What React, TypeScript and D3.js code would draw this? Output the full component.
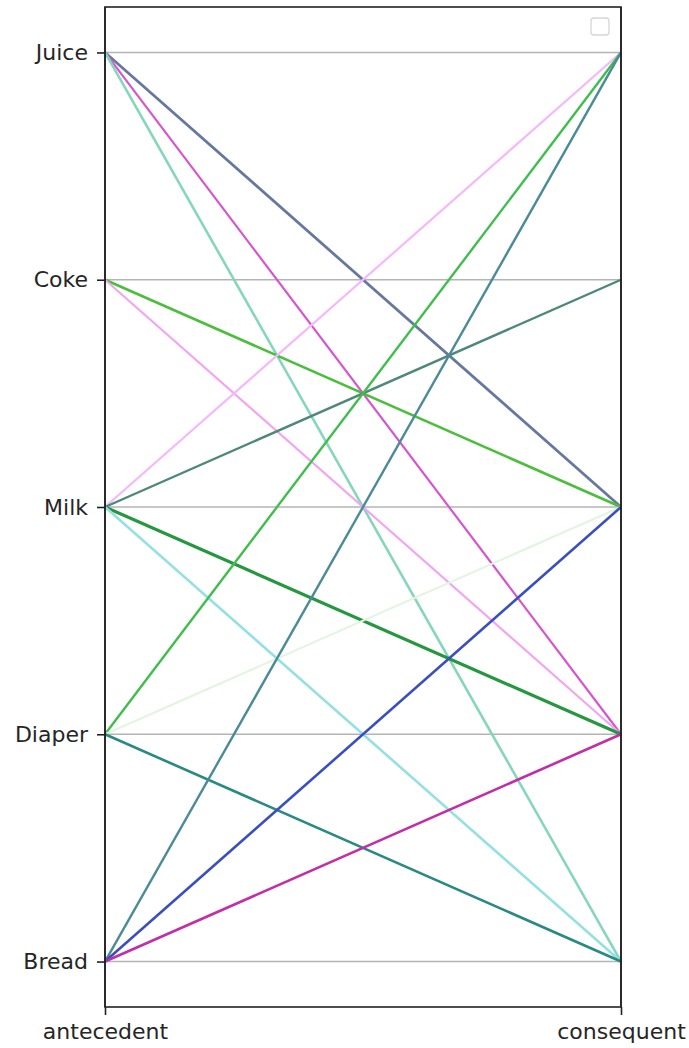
import * as d3 from "d3";
import { useEffect, useRef } from "react";

const categories = ["Bread", "Diaper", "Milk", "Coke", "Juice"];
const axes = ["antecedent", "consequent"];

const antecedents = ["Juice", "Juice", "Juice", "Coke", "Coke", "Milk", "Milk", "Milk", "Milk", "Diaper", "Diaper", "Diaper", "Bread", "Bread", "Bread"];
const consequents = ["Milk", "Diaper", "Bread", "Milk", "Diaper", "Juice", "Coke", "Diaper", "Bread", "Juice", "Milk", "Bread", "Juice", "Milk", "Diaper"];
const colors = ["#66789e", "#d655cf", "#86d6bd", "#4cbd3c", "#f2a6f2", "#f5b8fb", "#4d8878", "#25983f", "#94e0e2", "#3fbe4d", "#e3f5e2", "#288a82", "#4b8b98", "#3a4fbf", "#c22ea8"];
const widths = [2.8, 2.2, 2.6, 2.6, 2.2, 2.2, 2.4, 3.2, 2.6, 2.4, 2.2, 2.6, 2.4, 2.6, 2.6];

export default function App() {
  const ref = useRef<SVGSVGElement | null>(null);

  useEffect(() => {
    if (!ref.current) return;
    const left = 105, right = 621, top = 7, bottom = 1007;

    const x = d3.scalePoint().domain(axes).range([left, right]);
    const y = d3
      .scaleLinear()
      .domain([-0.2, categories.length - 0.8])
      .range([bottom, top]);
    const yc = (c: string) => y(categories.indexOf(c));

    const svg = d3.select(ref.current);
    svg.selectAll("*").remove();

    // grid
    svg
      .append("g")
      .selectAll("line")
      .data(categories)
      .join("line")
      .attr("x1", left)
      .attr("x2", right)
      .attr("y1", (d) => yc(d))
      .attr("y2", (d) => yc(d))
      .attr("stroke", "#b4b4b4")
      .attr("stroke-width", 1.4);

    // rules
    const rows = antecedents.map((a, i) => ({ a, c: consequents[i], color: colors[i], w: widths[i] }));
    svg
      .append("g")
      .selectAll("line")
      .data(rows)
      .join("line")
      .attr("x1", x("antecedent")!)
      .attr("x2", x("consequent")!)
      .attr("y1", (d) => yc(d.a))
      .attr("y2", (d) => yc(d.c))
      .attr("stroke", (d) => d.color)
      .attr("stroke-width", (d) => d.w);

    // axes verticals
    svg
      .append("g")
      .selectAll("line")
      .data(axes)
      .join("line")
      .attr("x1", (d) => x(d)!)
      .attr("x2", (d) => x(d)!)
      .attr("y1", top)
      .attr("y2", bottom)
      .attr("stroke", "#222")
      .attr("stroke-width", 1.6);

    svg
      .append("rect")
      .attr("x", left)
      .attr("y", top)
      .attr("width", right - left)
      .attr("height", bottom - top)
      .attr("fill", "none")
      .attr("stroke", "#222")
      .attr("stroke-width", 1.6);

    const yAxis = svg
      .append("g")
      .attr("transform", `translate(${left},0)`)
      .call(
        d3
          .axisLeft(y)
          .tickValues(d3.range(categories.length))
          .tickFormat((d) => categories[d as number])
          .tickSize(8)
          .tickPadding(9)
      );
    const xAxis = svg
      .append("g")
      .attr("transform", `translate(0,${bottom})`)
      .call(d3.axisBottom(x).tickSize(8).tickPadding(8));

    [yAxis, xAxis].forEach((g) => {
      g.select(".domain").remove();
      g.selectAll(".tick line").attr("stroke", "#222").attr("stroke-width", 1.6);
      g.selectAll(".tick text")
        .attr("fill", "#262626")
        .attr("font-size", 22)
        .attr("font-family", "DejaVu Sans, sans-serif");
    });

    // empty legend
    svg
      .append("rect")
      .attr("x", 591)
      .attr("y", 18)
      .attr("width", 18)
      .attr("height", 17)
      .attr("rx", 3)
      .attr("fill", "white")
      .attr("stroke", "#d6d6d6")
      .attr("stroke-width", 1.3);
  }, []);

  return (
    <svg
      ref={ref}
      width={689}
      height={1048}
      style={{ position: "absolute", left: 0, top: 0, background: "white" }}
    />
  );
}
